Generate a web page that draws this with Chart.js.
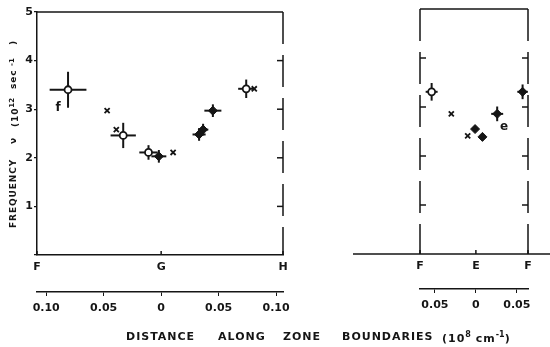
<!DOCTYPE html>
<html>
<head>
<meta charset="utf-8">
<script src="https://cdn.jsdelivr.net/npm/chart.js@4.4.0/dist/chart.umd.min.js"></script>
<style>
  body { margin: 0; background: #fff; }
  #wrap { position: relative; width: 550px; height: 347px; overflow: hidden;
          font-family: "DejaVu Sans", sans-serif; font-weight: bold; color: #151515; }
  #left { position: absolute; left: 0; top: 0; }
  #right { position: absolute; left: 330px; top: 0; }
  .word { position: absolute; top: 330px; font-size: 11px; letter-spacing: 1px; white-space: nowrap; }
  .word sup { font-size: 8px; letter-spacing: 0; }
  #ytitle { position: absolute; left: -86px; top: 126px; width: 200px; height: 12px;
            transform: rotate(-90deg); font-size: 9px; letter-spacing: 0.9px; }
  #ytitle span { position: absolute; top: 0; white-space: nowrap; }
  #ytitle sup { font-size: 7px; letter-spacing: 0; }
</style>
</head>
<body>
<div id="wrap">
  <canvas id="left" width="300" height="347"></canvas>
  <canvas id="right" width="220" height="347"></canvas>
  <div id="ytitle">
    <span style="left:4px">FREQUENCY</span>
    <span style="left:88px">ν</span>
    <span style="left:105px">(10<sup>12</sup></span>
    <span style="left:143px">sec</span>
    <span style="left:166px"><sup>-1</sup></span>
    <span style="left:187px">)</span>
  </div>
  <div class="word" style="left:126px">DISTANCE</div>
  <div class="word" style="left:218px">ALONG</div>
  <div class="word" style="left:283px">ZONE</div>
  <div class="word" style="left:342px">BOUNDARIES</div>
  <div class="word" style="left:442px">(10<sup>8</sup> cm<sup>-1</sup>)</div>
</div>
<script>
var INK = '#151515';

// left panel, F - G - H  (distance in 10^8 cm^-1, frequency in 10^12 sec^-1)
var leftOpenX = [-0.081, -0.033, -0.011, 0.074];
var leftOpenY = [3.40, 2.46, 2.11, 3.42];
var leftOpenXErr = [0.016, 0.011, 0.008, 0.007];
var leftOpenYErr = [0.37, 0.26, 0.15, 0.19];
var leftSolidX = [-0.002, 0.033, 0.0365, 0.045];
var leftSolidY = [2.03, 2.48, 2.58, 2.97];
var leftSolidXErr = [0.0065, 0.0057, 0.0045, 0.0074];
var leftSolidYErr = [0.13, 0.13, 0.12, 0.13];
var leftCrossX = [-0.047, -0.039, 0.0104, 0.081];
var leftCrossY = [2.97, 2.58, 2.11, 3.42];

// right panel, F - E - F
var rightOpenX = [-0.054];
var rightOpenY = [3.31];
var rightOpenXErr = [0.0073];
var rightOpenYErr = [0.18];
var rightSolidX = [-0.001, 0.008, 0.026, 0.057];
var rightSolidY = [2.55, 2.39, 2.86, 3.31];
var rightSolidXErr = [0, 0, 0.0073, 0.0064];
var rightSolidYErr = [0, 0, 0.15, 0.15];
var rightCrossX = [-0.030, -0.010];
var rightCrossY = [2.86, 2.41];

// axes
var freqTicks = [0, 1, 2, 3, 4, 5];
var leftPoints = ['F', 'G', 'H'];
var leftPointPos = [-0.108, 0, 0.106];
var rightPoints = ['F', 'E', 'F'];
var rightPointPos = [-0.0682, 0, 0.0636];
var leftDistTicks = [-0.10, -0.05, 0, 0.05, 0.10];
var rightDistTicks = [-0.05, 0, 0.05];

// curve labels
var leftNotes = ['f'];
var leftNoteX = [-0.0896];
var leftNoteY = [3.03];
var rightNotes = ['e'];
var rightNoteX = [0.0345];
var rightNoteY = [2.59];

function pts(xs, ys, xe, ye) {
  return xs.map(function(x, i) {
    return { x: x, y: ys[i], xErr: xe ? xe[i] : 0, yErr: ye ? ye[i] : 0 };
  });
}

function font(size) {
  return { family: 'DejaVu Sans', weight: 'bold', size: size };
}

function seg(ctx, x1, y1, x2, y2) {
  ctx.beginPath(); ctx.moveTo(x1, y1); ctx.lineTo(x2, y2); ctx.stroke();
}

// error bars go under the markers
var errorBars = {
  id: 'errorBars',
  beforeDatasetsDraw: function(chart) {
    var ctx = chart.ctx, xs = chart.scales.x, ys = chart.scales.y;
    ctx.save();
    ctx.strokeStyle = INK;
    ctx.lineWidth = 2;
    chart.data.datasets.forEach(function(ds) {
      ds.data.forEach(function(p) {
        var px = xs.getPixelForValue(p.x), py = ys.getPixelForValue(p.y);
        if (p.xErr) seg(ctx, xs.getPixelForValue(p.x - p.xErr), py, xs.getPixelForValue(p.x + p.xErr), py);
        if (p.yErr) seg(ctx, px, ys.getPixelForValue(p.y - p.yErr), px, ys.getPixelForValue(p.y + p.yErr));
      });
    });
    ctx.restore();
  }
};

// box edges, broken side lines and the little curve letters
var frame = {
  id: 'frame',
  afterDraw: function(chart, args, o) {
    var ctx = chart.ctx, a = chart.chartArea, xs = chart.scales.x, ys = chart.scales.y;
    ctx.save();
    ctx.strokeStyle = INK;
    ctx.lineWidth = 1.5;
    seg(ctx, a.left, a.top, a.right, a.top);
    o.dashed.forEach(function(side) {
      var x = side === 'left' ? a.left : a.right;
      var dir = side === 'left' ? 1 : -1;
      ctx.setLineDash([32, 11]);
      seg(ctx, x, a.top, x, a.bottom);
      ctx.setLineDash([]);
      freqTicks.forEach(function(v) {
        if (v > 0 && v < 5) {
          var y = ys.getPixelForValue(v);
          seg(ctx, x, y, x + dir * 6, y);
        }
      });
    });
    xs.ticks.forEach(function(t) {
      var px = xs.getPixelForValue(t.value);
      seg(ctx, px, a.bottom, px, a.bottom - 4);
    });
    if (o.baseFrom != null) seg(ctx, o.baseFrom, a.bottom, o.baseTo, a.bottom);
    ctx.fillStyle = INK;
    ctx.font = 'bold 12px "DejaVu Sans"';
    ctx.textAlign = 'center';
    ctx.textBaseline = 'middle';
    o.notes.forEach(function(n, i) {
      ctx.fillText(n, xs.getPixelForValue(o.noteX[i]), ys.getPixelForValue(o.noteY[i]));
    });
    ctx.restore();
  }
};

function datasets(open, solid, cross) {
  return [
    { data: open, pointStyle: 'circle', pointRadius: 3.5, backgroundColor: '#fff',
      borderColor: INK, borderWidth: 1.8 },
    { data: solid, pointStyle: 'rectRot', pointRadius: 4.5, backgroundColor: INK,
      borderColor: INK, borderWidth: 1 },
    { data: cross, pointStyle: 'crossRot', pointRadius: 3.6, backgroundColor: INK,
      borderColor: INK, borderWidth: 1.8 }
  ];
}

function makePanel(id, p) {
  return new Chart(document.getElementById(id), {
    type: 'scatter',
    data: { datasets: datasets(p.open, p.solid, p.cross) },
    options: {
      responsive: false,
      animation: false,
      layout: { padding: p.padding },
      plugins: {
        legend: { display: false },
        tooltip: { enabled: false },
        frame: { dashed: p.dashed, baseFrom: p.baseFrom, baseTo: p.baseTo,
                 notes: p.notes, noteX: p.noteX, noteY: p.noteY }
      },
      scales: {
        x: {
          type: 'linear', position: 'bottom', weight: 0,
          min: p.range[0], max: p.range[1],
          afterBuildTicks: function(s) { s.ticks = p.pointPos.map(function(v) { return { value: v }; }); },
          ticks: { callback: function(v, i) { return p.pointNames[i]; }, padding: 6,
                   font: font(11), color: INK, maxRotation: 0, autoSkip: false },
          grid: { display: true, drawOnChartArea: false, drawTicks: false },
          border: { display: p.xBorder, color: INK, width: 1.5 },
          afterFit: function(s) { s.height = p.xHeight; }
        },
        x2: {
          type: 'linear', position: 'bottom', weight: 1,
          min: p.range[0], max: p.range[1],
          afterBuildTicks: function(s) { s.ticks = p.distTicks.map(function(v) { return { value: v }; }); },
          ticks: { callback: function(v) { return Math.abs(v) < 1e-9 ? '0' : Math.abs(v).toFixed(2); },
                   padding: p.distPad, font: font(11), color: INK, maxRotation: 0, autoSkip: false },
          grid: { display: true, drawOnChartArea: false, drawTicks: true, tickLength: 4,
                  color: INK, lineWidth: 1 },
          border: { display: true, color: INK, width: 1.5 },
          afterFit: function(s) { s.height = 25; }
        },
        y: {
          type: 'linear', position: 'left', display: p.yDisplay,
          min: 0, max: 5,
          afterBuildTicks: function(s) { s.ticks = freqTicks.map(function(v) { return { value: v }; }); },
          ticks: { callback: function(v) { return v === 0 ? '' : v; }, padding: 1,
                   font: font(11), color: INK },
          grid: { display: true, drawOnChartArea: false, drawTicks: true, tickLength: 3,
                  color: INK, lineWidth: 1.2 },
          border: { display: true, color: INK, width: 1.5 },
          afterFit: function(s) { s.width = 37; }
        }
      }
    },
    plugins: [errorBars, frame]
  });
}

makePanel('left', {
  open: pts(leftOpenX, leftOpenY, leftOpenXErr, leftOpenYErr),
  solid: pts(leftSolidX, leftSolidY, leftSolidXErr, leftSolidYErr),
  cross: pts(leftCrossX, leftCrossY),
  range: [leftPointPos[0], leftPointPos[2]],
  pointPos: leftPointPos, pointNames: leftPoints, distTicks: leftDistTicks, distPad: 6,
  padding: { left: 0, right: 17, top: 12, bottom: 30 },
  xHeight: 37, xBorder: true, yDisplay: true,
  dashed: ['right'], baseFrom: null, baseTo: null,
  notes: leftNotes, noteX: leftNoteX, noteY: leftNoteY
});

makePanel('right', {
  open: pts(rightOpenX, rightOpenY, rightOpenXErr, rightOpenYErr),
  solid: pts(rightSolidX, rightSolidY, rightSolidXErr, rightSolidYErr),
  cross: pts(rightCrossX, rightCrossY),
  range: [rightPointPos[0], rightPointPos[2]],
  pointPos: rightPointPos, pointNames: rightPoints, distTicks: rightDistTicks, distPad: 6,
  padding: { left: 53, right: 22, top: 9, bottom: 33 },
  xHeight: 35, xBorder: false, yDisplay: false,
  dashed: ['left', 'right'], baseFrom: 23, baseTo: 220,
  notes: rightNotes, noteX: rightNoteX, noteY: rightNoteY
});
</script>
</body>
</html>
